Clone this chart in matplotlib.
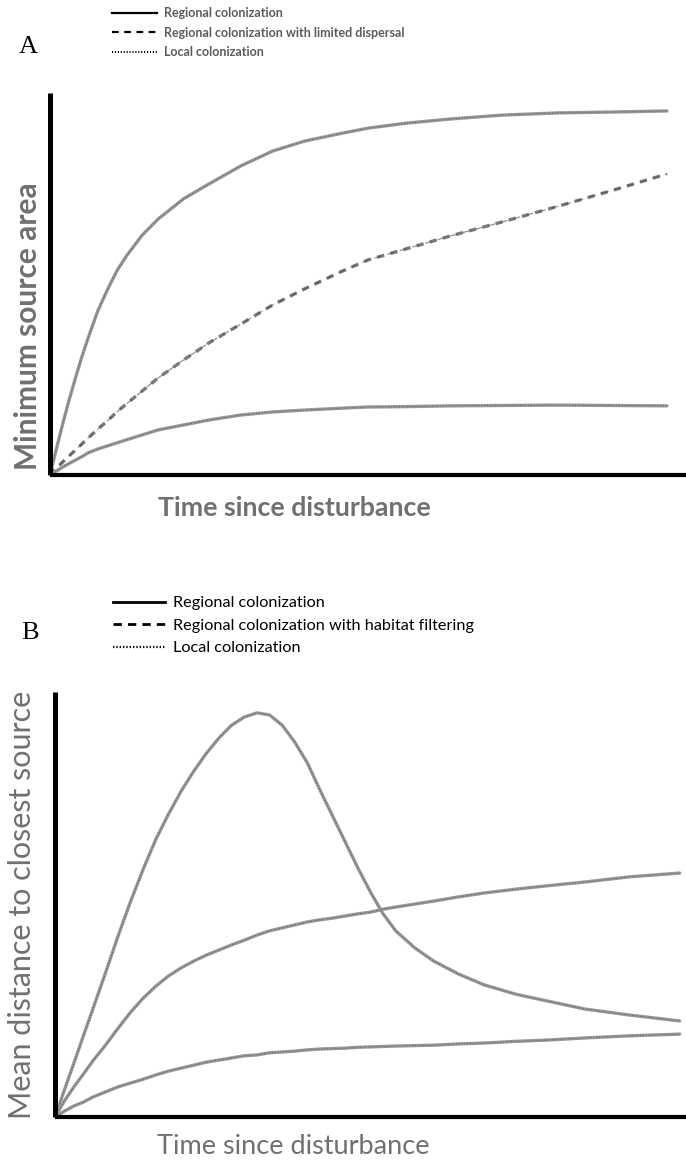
"""Two-panel conceptual figure: colonization scenarios over time."""

import matplotlib

matplotlib.use("Agg")
from matplotlib import pyplot as plt
from matplotlib.lines import Line2D

W, H = 686, 1165

# Panel A: minimum source area (relative units, 0-100)
time_a = [0, 1, 2, 3, 4, 5, 6, 7.5, 9, 10.5, 12, 14.5, 17, 21, 25, 30, 35,
          40, 46, 50, 56, 63, 71, 80, 88, 97]
regional_a = [0, 6.8, 13.4, 19.6, 25.4, 30.9, 35.9, 42.9, 48.4, 53.4, 57.3,
              62.8, 67.0, 72.3, 76.2, 80.9, 84.8, 87.4, 89.5, 90.8, 92.1,
              93.2, 94.2, 94.8, 95.0, 95.3]
limited_a = [0, 1.8, 3.4, 5.0, 6.5, 8.1, 9.7, 12.0, 14.1, 16.5, 18.6, 22.0,
             25.4, 30.1, 34.6, 39.5, 44.5, 48.7, 53.4, 56.3, 59.2, 62.6,
             66.2, 70.4, 74.3, 78.8]
local_a = [0, 1.0, 2.1, 3.0, 3.9, 4.8, 5.8, 6.8, 7.6, 8.4, 9.2, 10.5, 11.8,
           13.1, 14.4, 15.7, 16.5, 17.0, 17.5, 17.8, 17.9, 18.1, 18.2, 18.3,
           18.2, 18.1]

# Panel B: mean distance to closest source (relative units, 0-100)
time_b = [0, 1.5, 3, 4.5, 6, 8, 10, 12, 14, 16, 18, 20, 22, 24, 26, 28, 30,
          32, 34, 36, 38, 40, 42, 44, 46, 48, 50, 52, 54, 57, 60, 64, 68, 73,
          78, 84, 91, 99]
filtering_b = [0, 6.4, 12.7, 19.1, 25.4, 33.9, 42.6, 50.8, 58.4, 65.4, 71.3,
               76.7, 81.4, 85.6, 89.2, 92.2, 94.1, 95.1, 94.6, 92.2, 88.2,
               83.3, 76.9, 70.8, 64.7, 58.6, 52.9, 47.8, 43.8, 39.8, 36.7,
               33.6, 31.1, 28.9, 27.3, 25.4, 24.0, 22.6]
regional_b = [0, 3.8, 7.1, 10.1, 13.2, 16.9, 20.9, 24.7, 28.0, 30.8, 33.2,
              35.1, 36.7, 38.1, 39.3, 40.5, 41.6, 42.8, 43.8, 44.5, 45.2,
              45.9, 46.4, 46.8, 47.3, 47.8, 48.2, 48.9, 49.4, 50.1, 50.8,
              51.8, 52.7, 53.6, 54.4, 55.3, 56.5, 57.4]
local_b = [0, 1.4, 2.6, 3.5, 4.7, 5.9, 7.1, 8.0, 8.9, 9.9, 10.8, 11.5, 12.2,
           12.9, 13.4, 13.9, 14.4, 14.6, 15.1, 15.3, 15.5, 15.8, 16.0, 16.1,
           16.2, 16.4, 16.5, 16.6, 16.7, 16.8, 16.9, 17.2, 17.4, 17.8, 18.1,
           18.6, 19.1, 19.5]

labels_a = ["Regional colonization",
            "Regional colonization with limited dispersal",
            "Local colonization"]
labels_b = ["Regional colonization",
            "Regional colonization with habitat filtering",
            "Local colonization"]

PENCIL = "#9a9a9a"
GRAIN = "#4a4a4a"
LABEL_GRAY = "#707070"


def fx(px):
    return px / W


def fy(py):
    return 1 - py / H


def pencil(ax, x, y, dashed=False):
    """Grey sketched curve: soft base stroke plus a grainy overlay."""
    if dashed:
        ax.plot(x, y, color="#7a7a7a", lw=2.4, ls=(0, (2.2, 1.9)),
                solid_capstyle="butt")
        ax.plot(x, y, color=GRAIN, lw=0.9, ls=(0, (5.5, 5.0)), alpha=0.6)
        return
    ax.plot(x, y, color=PENCIL, lw=2.4, solid_capstyle="round",
            solid_joinstyle="round")
    ax.plot(x, y, color=GRAIN, lw=0.9, ls=(0, (0.8, 1.4)), alpha=0.7)


def style_axes(ax):
    ax.set_xlim(0, 100)
    ax.set_ylim(0, 100)
    ax.set_xticks([])
    ax.set_yticks([])
    for side in ("top", "right"):
        ax.spines[side].set_visible(False)
    ax.spines["left"].set_linewidth(3.6)
    ax.spines["bottom"].set_linewidth(3.0)
    for side in ("left", "bottom"):
        ax.spines[side].set_color("black")
        ax.spines[side].set_capstyle("butt")


fig = plt.figure(figsize=(W / 100, H / 100), dpi=100)

# ---- panel A ----
ax_a = fig.add_axes([fx(50), fy(475), fx(636), 382 / H])
style_axes(ax_a)
pencil(ax_a, time_a, regional_a)
pencil(ax_a, time_a, limited_a, dashed=True)
pencil(ax_a, time_a, local_a)

fig.text(fx(28), fy(47), "A", family="Liberation Serif", fontsize=19,
         ha="center", va="center")
fig.text(fx(28), fy(326), "Minimum source area", family="Lato",
         fontweight="bold", fontsize=21.5, color=LABEL_GRAY, rotation=90,
         ha="center", va="center")
fig.text(fx(294), fy(508), "Time since disturbance", family="Lato",
         fontweight="bold", fontsize=19.3, color=LABEL_GRAY,
         ha="center", va="center")

handles_a = [Line2D([], [], color="black", lw=1.6),
             Line2D([], [], color="black", lw=1.6, ls=(0, (3, 2.5))),
             Line2D([], [], color="black", lw=1.4, ls=(0, (0.6, 0.9)))]
fig.legend(handles_a, labels_a, loc="upper left",
           bbox_to_anchor=(fx(112), fy(7)), frameon=False,
           prop={"family": "Lato", "weight": "bold", "size": 9},
           labelcolor="#5c5c5c", handlelength=3.6, handletextpad=0.6,
           labelspacing=0.62, borderpad=0, borderaxespad=0)

# ---- panel B ----
ax_b = fig.add_axes([fx(55), fy(1117), fx(631), 425 / H])
style_axes(ax_b)
pencil(ax_b, time_b, filtering_b)
pencil(ax_b, time_b, regional_b)
pencil(ax_b, time_b, local_b)

fig.text(fx(30), fy(633), "B", family="Liberation Serif", fontsize=19,
         ha="center", va="center")
fig.text(fx(22), fy(905), "Mean distance to closest source", family="Lato",
         fontsize=22, color=LABEL_GRAY, rotation=90,
         ha="center", va="center")
fig.text(fx(293), fy(1147), "Time since disturbance", family="Lato",
         fontsize=19.5, color=LABEL_GRAY, ha="center", va="center")

handles_b = [Line2D([], [], color="black", lw=2.0),
             Line2D([], [], color="black", lw=2.0, ls=(0, (3, 2.2))),
             Line2D([], [], color="black", lw=1.6, ls=(0, (0.6, 0.9)))]
fig.legend(handles_b, labels_b, loc="upper left",
           bbox_to_anchor=(fx(113), fy(596)), frameon=False,
           prop={"family": "Lato", "size": 11.7}, labelcolor="black",
           handlelength=3.2, handletextpad=0.5, labelspacing=0.5,
           borderpad=0, borderaxespad=0)

fig.savefig("out.png", dpi=100)
